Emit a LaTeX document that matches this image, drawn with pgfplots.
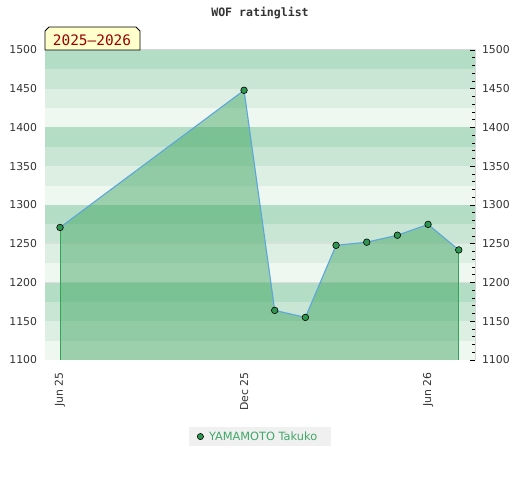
\documentclass[border=0pt]{standalone}
\usepackage{fontspec}
\setmainfont{DejaVu Sans}
\newfontfamily\monofont{DejaVu Sans Mono}
\usepackage{pgfplots}
\pgfplotsset{compat=1.18}
\definecolor{bandA}{HTML}{B3DEC5}
\definecolor{bandB}{HTML}{C8E6D3}
\definecolor{bandC}{HTML}{DDEFE3}
\definecolor{bandD}{HTML}{EFF7F1}
\definecolor{areafill}{RGB}{47,157,84}
\definecolor{linecol}{HTML}{5CA6DC}
\definecolor{markcol}{RGB}{46,150,80}
\definecolor{edgecol}{RGB}{50,165,85}
\definecolor{axcol}{HTML}{D6D6D6}
\definecolor{ticktext}{HTML}{333333}
\definecolor{legtext}{HTML}{40A868}
\definecolor{labelbg}{HTML}{FFFFCC}
\definecolor{labeltext}{HTML}{990000}
\begin{document}
\begin{tikzpicture}[x=1bp,y=1bp]
\path[use as bounding box] (0,0) rectangle (520,480);
\begin{axis}[
  at={(45bp,120bp)}, anchor=south west,
  scale only axis, width=430bp, height=310bp,
  xmin=-0.49, xmax=13.53, ymin=1100, ymax=1500,
  axis line style={draw=axcol, line width=1bp},
  xtick={0,6,12}, xticklabels={Jun 25,Dec 25,Jun 26},
  ytick={1100,1150,...,1500},
  /pgf/number format/assume math mode=true,
  /pgf/number format/1000 sep={},
  major tick length=0pt,
  tick label style={font=\fontsize{10.9}{12}\selectfont, text=ticktext},
  xticklabel style={rotate=90, anchor=east},
  xticklabel shift=9bp,
  yticklabel shift=4.5bp,
  legend style={at={(0.5,-0.247)}, anchor=center, fill=black!6, draw=none,
    font=\fontsize{11.4}{13}\selectfont, text=legtext, inner xsep=8bp, inner ysep=2.5bp,
    nodes={inner xsep=5.5bp}},
  legend image code/.code={\draw[#1] plot coordinates {(0bp,0bp)};},
  legend cell align=left,
]
% background bands
\fill[bandD] (-1,1100) rectangle (14,1125);
\fill[bandC] (-1,1125) rectangle (14,1150);
\fill[bandB] (-1,1150) rectangle (14,1175);
\fill[bandA] (-1,1175) rectangle (14,1200);
\fill[bandD] (-1,1200) rectangle (14,1225);
\fill[bandC] (-1,1225) rectangle (14,1250);
\fill[bandB] (-1,1250) rectangle (14,1275);
\fill[bandA] (-1,1275) rectangle (14,1300);
\fill[bandD] (-1,1300) rectangle (14,1325);
\fill[bandC] (-1,1325) rectangle (14,1350);
\fill[bandB] (-1,1350) rectangle (14,1375);
\fill[bandA] (-1,1375) rectangle (14,1400);
\fill[bandD] (-1,1400) rectangle (14,1425);
\fill[bandC] (-1,1425) rectangle (14,1450);
\fill[bandB] (-1,1450) rectangle (14,1475);
\fill[bandA] (-1,1475) rectangle (14,1500);
\draw[black!13, line width=1bp] (-1,1200) -- (14,1200);
\draw[black!13, line width=1bp] (-1,1250) -- (14,1250);
% area
\addplot[draw=none, fill=areafill, fill opacity=0.43, forget plot] coordinates {
 (0,1271) (6,1448) (7,1164) (8,1155) (9,1248) (10,1252) (11,1261) (12,1275) (13,1242)
} \closedcycle;
\addplot[edgecol, line width=1bp, forget plot] coordinates {(0,1100) (0,1271)};
\addplot[edgecol, line width=1bp, forget plot] coordinates {(13,1100) (13,1242)};
\addplot[linecol, line width=1.1bp, mark=*, mark size=3.3bp,
  mark options={fill=markcol, draw=black, line width=0.6bp}, forget plot] coordinates {
 (0,1271) (6,1448) (7,1164) (8,1155) (9,1248) (10,1252) (11,1261) (12,1275) (13,1242)
};
\addlegendimage{only marks, mark=*, mark size=3.1bp, mark options={fill=markcol, draw=black, line width=0.6bp}}
\addlegendentry{YAMAMOTO Takuko}
\end{axis}
\begin{axis}[
  at={(45bp,120bp)}, anchor=south west,
  scale only axis, width=430bp, height=310bp,
  xmin=-0.49, xmax=13.53, ymin=1100, ymax=1500,
  axis x line=none, axis y line*=right,
  axis line style={draw=axcol, line width=1bp},
  ytick={1100,1150,...,1500}, minor y tick num=4,
  /pgf/number format/assume math mode=true,
  /pgf/number format/1000 sep={},
  tick align=inside, major tick length=5bp, minor tick length=3bp,
  tick style={black, line width=0.8bp},
  tick label style={font=\fontsize{10.9}{12}\selectfont, text=ticktext},
  yticklabel shift=3.5bp,
]
\end{axis}
\node[font=\monofont\bfseries\fontsize{11.6}{13}\selectfont, text=ticktext] at (260,466.5) {WOF ratinglist};
\filldraw[fill=labelbg, draw=black, line width=0.8bp] (45,430) -- (45,449) -- (49,453) -- (136,453) -- (140,449) -- (140,430) -- cycle;
\node[font=\monofont\fontsize{14.5}{16}\selectfont, text=labeltext] at (92,440) {2025–2026};
\end{tikzpicture}
\end{document}
